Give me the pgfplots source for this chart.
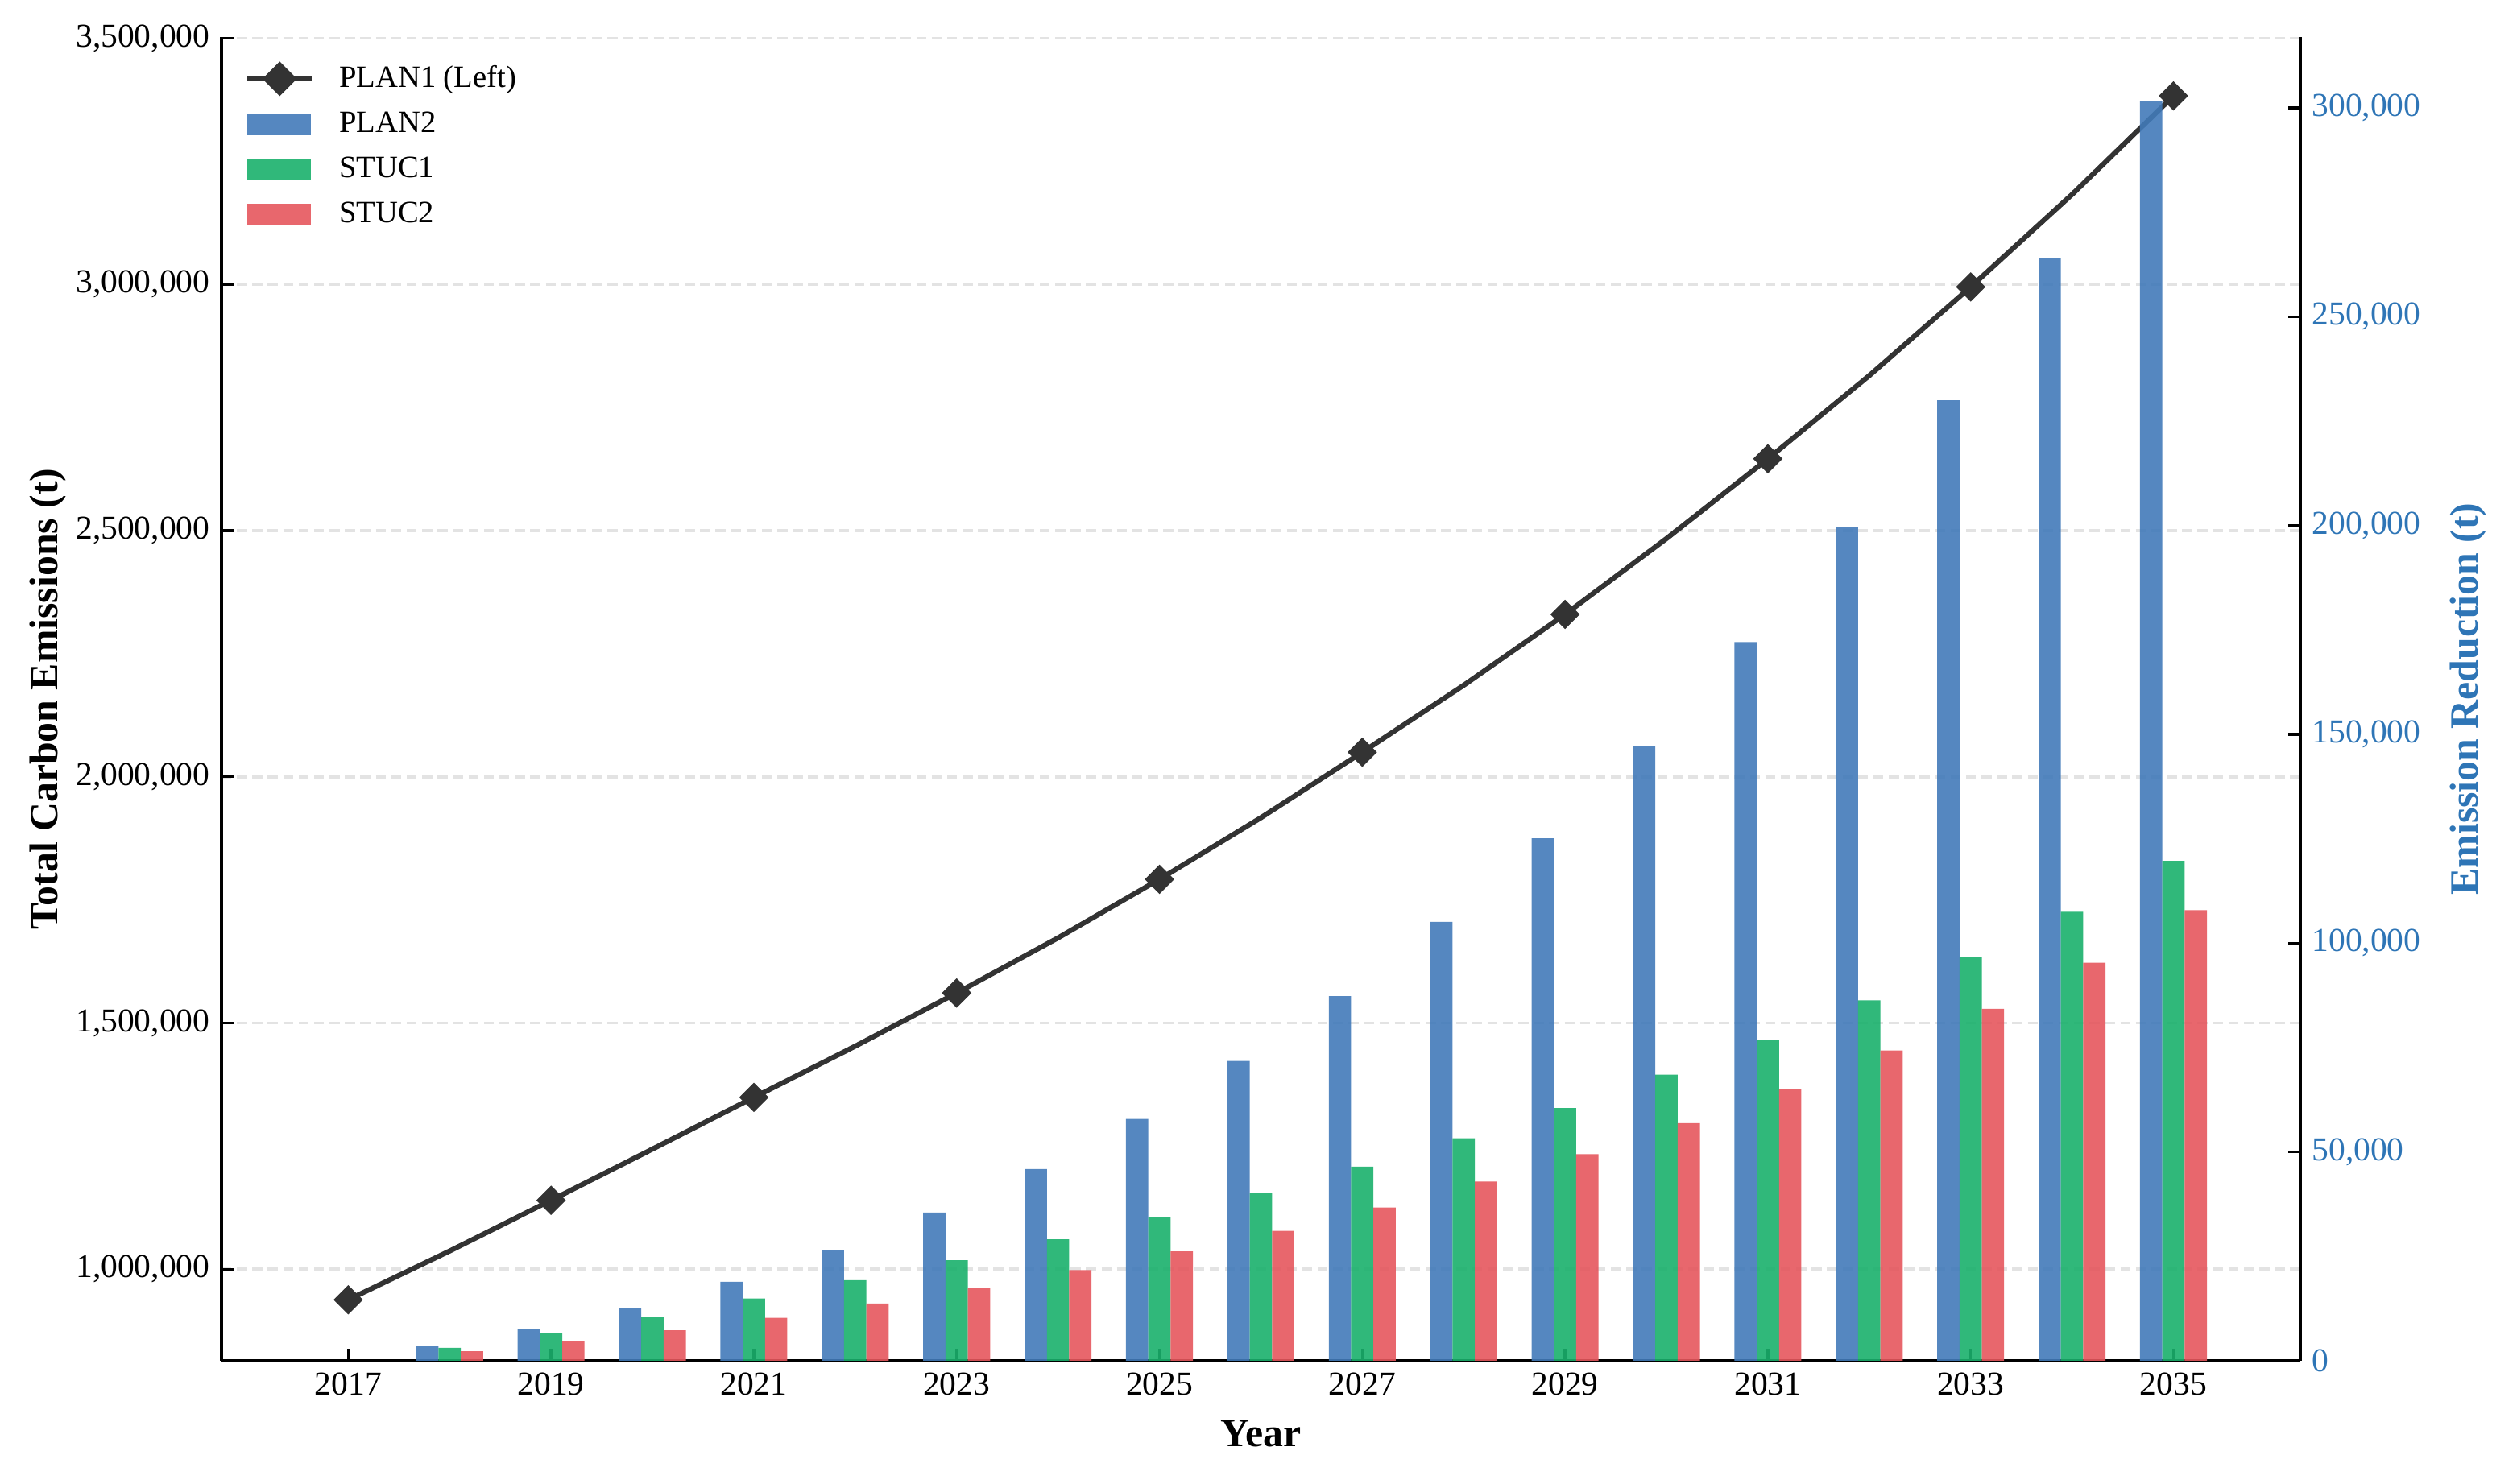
\documentclass[border=0pt]{standalone}
\usepackage{pgfplots}
\usepackage{pgfplotstable}
\pgfplotsset{compat=1.18}
\usepackage{fontspec}
\setmainfont{Liberation Serif}
\definecolor{cblue}{HTML}{427AB9}
\definecolor{cgreen}{HTML}{1AB06C}
\definecolor{cred}{HTML}{E5575D}
\definecolor{cline}{HTML}{333333}
\definecolor{raxis}{HTML}{2E75B6}
\definecolor{gridc}{HTML}{E3E3E3}

\pgfplotstableread{
year plan1
2017 938000
2018 1037000
2019 1140000
2020 1244000
2021 1349000
2022 1453000
2023 1561000
2024 1673000
2025 1792000
2026 1917000
2027 2050000
2028 2186000
2029 2330000
2030 2484000
2031 2646000
2032 2815000
2033 2995000
2034 3183000
2035 3383000
}\linedata

\pgfplotstableread{
year plan2 stuc1 stuc2
2018 3500 3100 2300
2019 7500 6700 4600
2020 12600 10500 7300
2021 18900 14900 10300
2022 26500 19300 13700
2023 35500 24100 17500
2024 45900 29100 21700
2025 57900 34500 26200
2026 71800 40200 31100
2027 87300 46500 36700
2028 105100 53300 42900
2029 125100 60500 49500
2030 147100 68500 56900
2031 172100 76900 65100
2032 199600 86300 74300
2033 230000 96600 84300
2034 263900 107500 95300
2035 301600 119700 107900
}\bardata

\pgfplotsset{
  common/.style={
    scale only axis, width=619.4bp, height=394.6bp,
    at={(0,0)}, anchor=south west,
    xmin=2015.75, xmax=2036.25,
    tick label style={font=\fontsize{10}{12}\selectfont},
    scaled ticks=false,
    tick align=inside,
    major tick length=3.6bp,
    axis line style={line width=0.8bp},
    every tick/.style={line width=0.8bp, black},
  },
  barlegend/.style={legend image code/.code={\fill[##1] (0bp,-3.2bp) rectangle (18.9bp,3.2bp);}},
  linelegend/.style={legend image code/.code={%
    \draw[##1] (0bp,0bp) -- (19.2bp,0bp);
    \fill[cline, shift={(9.6bp,0bp)}, rotate=45] (-2.9bp,-2.9bp) rectangle (2.9bp,2.9bp);}},
}

\begin{document}
\begin{tikzpicture}
\useasboundingbox (-66bp,-36.5bp) rectangle (684bp,405.6bp);
\begin{axis}[common,
  axis x line*=bottom, axis y line*=left,
  ymin=814000, ymax=3503000,
  ytick={1000000,1500000,2000000,2500000,3000000,3500000},
  yticklabels={{1,000,000},{1,500,000},{2,000,000},{2,500,000},{3,000,000},{3,500,000}},
  xtick={2017,2019,2021,2023,2025,2027,2029,2031,2033,2035},
  xticklabels={2017,2019,2021,2023,2025,2027,2029,2031,2033,2035},
  ymajorgrids,
  grid style={gridc, line width=0.85bp, dash pattern=on 3bp off 1.6bp},
  xlabel={Year},
  ylabel={Total Carbon Emissions (t)},
  every axis x label/.style={at={(axis description cs:0.5,-0.0547)}, anchor=center, font=\fontsize{12}{14}\selectfont\bfseries},
  every axis y label/.style={at={(axis description cs:-0.0833,0.5)}, rotate=90, anchor=center, font=\fontsize{12}{14}\selectfont\bfseries},
]
\addplot[cline, line width=1.5bp, mark=square*, mark size=2.85bp, mark repeat=2, mark phase=1,
  mark options={solid, rotate=45, fill=cline, draw=cline, line width=0.5bp}]
  table[x=year, y=plan1]{\linedata};
\end{axis}
\begin{axis}[common,
  axis x line=none, axis y line*=right,
  xtick=\empty,
  ymin=0, ymax=317000,
  ytick={0,50000,100000,150000,200000,250000,300000},
  yticklabels={0,{50,000},{100,000},{150,000},{200,000},{250,000},{300,000}},
  y tick label style={text=raxis},
  ylabel={Emission Reduction (t)},
  every axis y label/.style={at={(axis description cs:1.081,0.5)}, rotate=90, anchor=center, text=raxis, font=\fontsize{12}{14}\selectfont\bfseries},
  legend cell align=left,
  legend style={at={(axis description cs:0,1)}, anchor=north west, xshift=6.8bp, yshift=-5.8bp,
    draw=none, fill=none, inner sep=0pt, row sep=0.8bp,
    font=\fontsize{9.3}{11}\selectfont, nodes={inner sep=2.5bp},
    /tikz/every odd column/.append style={column sep=4.9bp}},
]
\addlegendimage{cline, line width=1.5bp, linelegend}
\addlegendentry{PLAN1 (Left)}
\addplot[ybar, bar width=0.22, bar shift=-0.22, fill=cblue, draw=none, fill opacity=0.9, barlegend]
  table[x=year, y=plan2]{\bardata};
\addlegendentry{PLAN2}
\addplot[ybar, bar width=0.22, bar shift=0, fill=cgreen, draw=none, fill opacity=0.9, barlegend]
  table[x=year, y=stuc1]{\bardata};
\addlegendentry{STUC1}
\addplot[ybar, bar width=0.22, bar shift=0.22, fill=cred, draw=none, fill opacity=0.9, barlegend]
  table[x=year, y=stuc2]{\bardata};
\addlegendentry{STUC2}
\end{axis}
\end{tikzpicture}
\end{document}
